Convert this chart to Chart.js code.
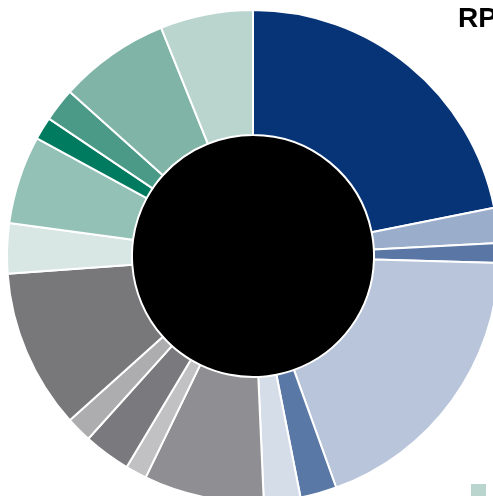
<!DOCTYPE html>
<html>
<head>
<meta charset="utf-8">
<script src="https://cdn.jsdelivr.net/npm/chart.js@4/dist/chart.umd.min.js"></script>
<style>
  html, body { margin: 0; padding: 0; background: #ffffff; }
  body { width: 493px; height: 496px; overflow: hidden; position: relative; }
  #wrap { position: absolute; left: 6px; top: 9px; width: 494px; height: 494px; }
  #title { position: absolute; left: 458px; top: 4px; font-family: "Liberation Sans Narrow", "Liberation Sans", Arial, sans-serif; font-weight: bold; font-size: 28px; line-height: 28px; color: #000; white-space: nowrap; }
  #legbox { position: absolute; left: 471px; top: 484px; width: 15px; height: 15px; background: #b9d5ce; }
</style>
</head>
<body>
<div id="wrap"><canvas id="c" width="494" height="494"></canvas></div>
<div id="title">RP</div>
<div id="legbox"></div>
<script>
const categories = ["A1","A2","A3","A4","A5","A6","B1","B2","B3","B4","B5","C1","C2","C3","C4","C5","C6"];
const values = [21.9, 2.3, 1.3, 19.1, 2.4, 2.4, 7.9, 1.4, 3.1, 1.7, 10.5, 3.3, 5.8, 1.5, 2.2, 7.3, 6.1];
const colors = ["#063477","#9aadcb","#5a76a5","#b8c5da","#5a78a6","#d5dde9","#8f8e92","#c1c1c3","#7a797d","#adadaf","#78777a","#d9e7e4","#94c1b6","#007b5f","#4b9a87","#80b4a7","#b9d5ce"];

const centerCircle = {
  id: 'centerCircle',
  beforeDatasetsDraw(chart) {
    const meta = chart.getDatasetMeta(0);
    if (!meta.data.length) return;
    const arc = meta.data[0];
    const ctx = chart.ctx;
    ctx.save();
    ctx.beginPath();
    ctx.arc(arc.x, arc.y, arc.innerRadius, 0, Math.PI * 2);
    ctx.fillStyle = '#000000';
    ctx.fill();
    ctx.restore();
  }
};

new Chart(document.getElementById('c'), {
  type: 'doughnut',
  data: {
    labels: categories,
    datasets: [{
      data: values,
      backgroundColor: colors,
      borderColor: '#ffffff',
      borderWidth: 2
    }]
  },
  options: {
    responsive: false,
    animation: false,
    devicePixelRatio: 1,
    cutout: '49.2%',
    layout: { padding: 0 },
    plugins: {
      legend: { display: false },
      tooltip: { enabled: false },
      title: { display: false }
    }
  },
  plugins: [centerCircle]
});
</script>
</body>
</html>
